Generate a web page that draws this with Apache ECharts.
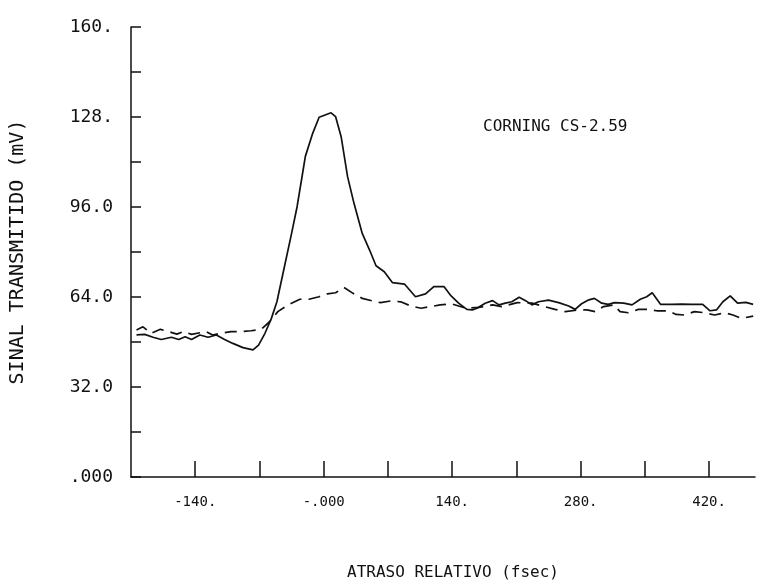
<!DOCTYPE html>
<html>
<head>
<meta charset="utf-8">
<script src="https://cdn.jsdelivr.net/npm/echarts@6/dist/echarts.min.js"></script>
<style>html,body{margin:0;padding:0;background:#fff}#c{width:764px;height:587px}</style>
</head>
<body>
<div id="c"></div>
<script>
// Delay (fsec) and signal (mV)
const solidX = [-204,-195,-186,-177,-166,-158,-151,-144,-135,-126,-117,-108,-99,-88,-77,-71,-64,-57,-51,-42,-35,-29,-23,-20,-12,-5,8,13,19,26,33,42,50,57,66,75,88,100,111,120,131,138,147,156,162,167,176,184,191,198,205,213,220,227,234,245,256,267,274,281,289,295,303,310,317,327,336,345,352,358,367,379,390,401,413,421,428,435,443,451,460,468];
const solidY = [50.5,50.7,49.7,48.9,49.7,48.9,49.9,48.9,50.5,49.7,50.5,48.9,47.5,46.0,45.2,46.9,51.1,56.4,62.3,76.0,86.6,96.1,108,114,122.2,127.9,129.5,128.1,121,106.8,97.3,86.6,80.7,75.1,73.0,69.1,68.6,64.1,65.1,67.7,67.7,64.7,61.8,59.6,59.4,60.0,61.8,62.7,61.2,61.8,62.3,63.9,62.7,61.2,62.3,62.9,62.0,60.8,59.6,61.6,63.0,63.5,61.8,61.4,62.0,61.8,61.2,63.2,64.1,65.5,61.4,61.4,61.5,61.4,61.4,59.1,59.4,62.3,64.4,61.8,62.1,61.4];
const dashX = [-204,-197,-188,-178,-169,-160,-153,-144,-135,-128,-121,-112,-101,-90,-79,-68,-59,-50,-39,-26,-16,-5,4,13,22,32,42,53,62,73,84,95,106,117,127,140,155,169,184,194,211,227,238,252,263,278,287,296,305,316,323,332,343,354,363,375,384,393,404,415,426,437,446,455,468];
const dashY = [52.3,53.4,51.1,52.5,51.7,50.8,51.7,50.7,51.3,51.7,50.5,51.1,51.7,51.7,52.0,52.5,55.2,58.8,61.2,63.2,63.2,64.1,65.1,65.5,67.4,65.3,63.5,62.6,62.0,62.6,62.3,60.8,60.0,60.6,61.2,61.5,60.0,60.3,61.2,60.6,62.0,61.8,60.8,59.6,58.8,59.4,59.4,58.8,60.6,61.2,58.8,58.4,59.6,59.6,59.1,59.1,57.8,57.6,58.8,58.4,57.6,58.4,57.6,56.4,57.2];

const xTickValues = [-140,-70,0,70,140,210,280,350,420];
const xLabelValues = [-140,0,140,280,420];
const xLabelText = {"-140":"-140.","0":"-.000","140":"140.","280":"280.","420":"420."};
const yLabelText = {"160":"160.","128":"128.","96":"96.0","64":"64.0","32":"32.0","0":".000"};

const xTitle = "ATRASO RELATIVO (fsec)";
const yTitle = "SINAL TRANSMITIDO (mV)";
const note = "CORNING CS-2.59";

const FONT = "DejaVu Sans Mono";
const INK = "#111";

const zip = (xs, ys) => xs.map((x, i) => [x, ys[i]]);

const chart = echarts.init(document.getElementById('c'), null, {renderer: 'canvas'});
chart.setOption({
  animation: false,
  backgroundColor: '#fff',
  grid: {left: 128, right: 9, top: 27, bottom: 110, containLabel: false},
  xAxis: {
    type: 'value', min: -210, max: 470,
    axisLine: {show: true, onZero: false, lineStyle: {color: INK, width: 1.5}},
    axisTick: {show: true, inside: true, length: 16, customValues: xTickValues, lineStyle: {color: INK, width: 1.5}},
    axisLabel: {show: true, customValues: xLabelValues, margin: 18, color: INK, fontFamily: FONT, fontSize: 14,
      formatter: v => xLabelText[String(v)] || ''},
    splitLine: {show: false}
  },
  yAxis: {
    type: 'value', min: 0, max: 160, interval: 16,
    name: yTitle, nameLocation: 'middle', nameGap: 103,
    nameTextStyle: {color: INK, fontFamily: FONT, fontSize: 20},
    axisLine: {show: true, onZero: false, lineStyle: {color: INK, width: 1.5}},
    axisTick: {show: true, inside: true, length: 10, lineStyle: {color: INK, width: 1.5}},
    axisLabel: {show: true, margin: 18, color: INK, fontFamily: FONT, fontSize: 18,
      formatter: v => (v % 32 === 0 ? (yLabelText[String(v)] || '') : '')},
    splitLine: {show: false}
  },
  graphic: [
    {type: 'text', left: 483, top: 119, style: {text: note, fill: INK, font: '16px "DejaVu Sans Mono"'}},
    {type: 'text', x: 453, y: 573, style: {text: xTitle, fill: INK, font: '16px "DejaVu Sans Mono"', align: 'center', verticalAlign: 'middle'}}
  ],
  series: [
    {type: 'line', data: zip(solidX, solidY), showSymbol: false, symbol: 'none',
      lineStyle: {color: INK, width: 1.7, type: 'solid'}, z: 3},
    {type: 'line', data: zip(dashX, dashY), showSymbol: false, symbol: 'none',
      lineStyle: {color: INK, width: 1.7, type: [12, 7]}, z: 2}
  ]
});
</script>
</body>
</html>
